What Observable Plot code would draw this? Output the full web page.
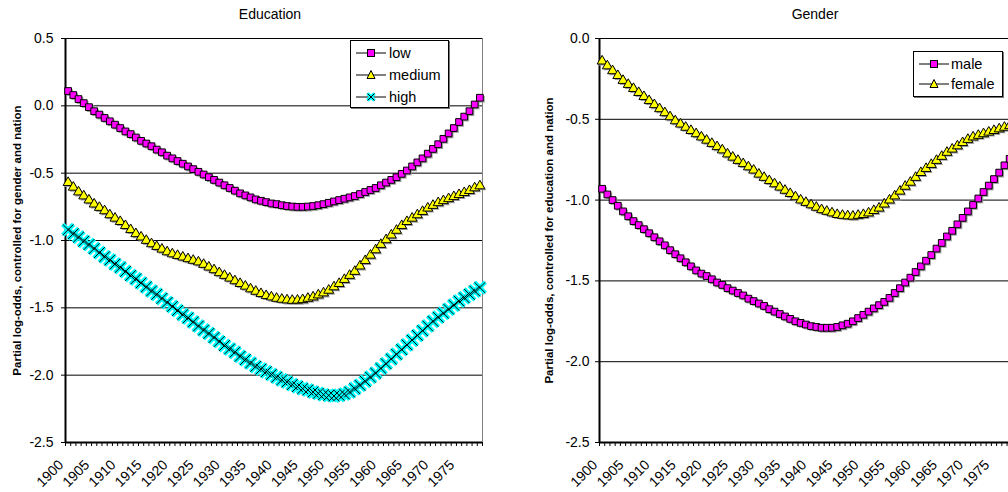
<!DOCTYPE html>
<html><head><meta charset="utf-8">
<script src="https://cdn.jsdelivr.net/npm/d3@7"></script>
<script src="https://cdn.jsdelivr.net/npm/@observablehq/plot@0.6"></script>
<style>
html,body{margin:0;padding:0;background:#fff;}
#wrap{position:relative;width:1008px;height:492px;overflow:hidden;font-family:"Liberation Sans",Arial,sans-serif;color:#000;}
.panel{position:absolute;top:0;}
.title{position:absolute;font-size:14px;line-height:16px;transform:translateX(-50%);white-space:nowrap;}
.legend{position:absolute;background:#fff;border:1px solid #000;box-shadow:1px 1px 0 #777;font-size:14.5px;}
.legend .row{position:absolute;left:0;height:16px;display:block;white-space:nowrap;}
.legend .row svg{position:absolute;left:4px;top:0;}
.legend .row span{position:absolute;top:0;line-height:16px;}
svg text{font-family:"Liberation Sans",Arial,sans-serif;}
g[aria-label="y-axis label"] text{font-weight:bold;font-size:11.5px;}
</style>
</head><body>
<div id="wrap">
  <div class="title" style="left:270px;top:6px">Education</div>
  <div class="title" style="left:815px;top:6px">Gender</div>
</div>
<script>
// ---- data ----
const years = d3.range(1900, 1980);
const yearLabels = [1900,1905,1910,1915,1920,1925,1930,1935,1940,1945,1950,1955,1960,1965,1970,1975];
const eduSeries = ["low","medium","high"];
const genderSeries = ["male","female"];
const low = [0.11,0.08,0.05,0.02,-0.01,-0.04,-0.065,-0.09,-0.115,-0.14,
-0.165,-0.19,-0.21,-0.235,-0.26,-0.28,-0.30,-0.325,-0.345,-0.37,
-0.39,-0.41,-0.43,-0.45,-0.47,-0.49,-0.51,-0.53,-0.55,-0.57,
-0.59,-0.61,-0.63,-0.65,-0.665,-0.68,-0.695,-0.705,-0.715,-0.725,
-0.73,-0.738,-0.744,-0.748,-0.75,-0.75,-0.748,-0.744,-0.738,-0.73,
-0.72,-0.71,-0.70,-0.69,-0.68,-0.67,-0.655,-0.64,-0.625,-0.61,
-0.59,-0.57,-0.55,-0.53,-0.505,-0.48,-0.45,-0.42,-0.39,-0.355,
-0.32,-0.285,-0.245,-0.205,-0.165,-0.12,-0.08,-0.04,0.01,0.06];
const medium = [-0.57,-0.605,-0.64,-0.67,-0.70,-0.73,-0.755,-0.78,-0.81,-0.835,
-0.86,-0.89,-0.92,-0.95,-0.975,-1.00,-1.025,-1.045,-1.065,-1.085,
-1.10,-1.112,-1.124,-1.136,-1.148,-1.16,-1.178,-1.198,-1.218,-1.24,
-1.26,-1.28,-1.30,-1.32,-1.34,-1.36,-1.378,-1.395,-1.41,-1.42,
-1.43,-1.437,-1.442,-1.445,-1.444,-1.44,-1.43,-1.42,-1.405,-1.39,
-1.37,-1.345,-1.32,-1.29,-1.26,-1.23,-1.19,-1.15,-1.11,-1.07,
-1.03,-0.995,-0.96,-0.925,-0.89,-0.86,-0.835,-0.81,-0.785,-0.76,
-0.74,-0.72,-0.705,-0.69,-0.675,-0.66,-0.645,-0.63,-0.61,-0.595];
const high = [-0.92,-0.95,-0.975,-1.005,-1.03,-1.06,-1.09,-1.12,-1.145,-1.175,
-1.20,-1.23,-1.26,-1.285,-1.315,-1.345,-1.375,-1.40,-1.43,-1.46,
-1.49,-1.52,-1.55,-1.575,-1.605,-1.635,-1.665,-1.69,-1.72,-1.75,
-1.78,-1.805,-1.83,-1.86,-1.885,-1.91,-1.935,-1.955,-1.975,-1.995,
-2.015,-2.035,-2.05,-2.07,-2.085,-2.10,-2.11,-2.125,-2.135,-2.145,
-2.15,-2.155,-2.15,-2.14,-2.125,-2.10,-2.075,-2.045,-2.015,-1.985,
-1.95,-1.915,-1.88,-1.845,-1.81,-1.775,-1.74,-1.705,-1.67,-1.635,
-1.60,-1.57,-1.54,-1.51,-1.48,-1.45,-1.425,-1.40,-1.375,-1.35];
const male = [-0.93,-0.965,-1.0,-1.035,-1.07,-1.10,-1.13,-1.155,-1.18,-1.205,
-1.23,-1.255,-1.28,-1.31,-1.335,-1.36,-1.385,-1.41,-1.435,-1.455,
-1.47,-1.49,-1.51,-1.525,-1.545,-1.56,-1.575,-1.59,-1.61,-1.625,
-1.64,-1.655,-1.675,-1.69,-1.705,-1.72,-1.735,-1.75,-1.76,-1.77,
-1.78,-1.785,-1.79,-1.79,-1.79,-1.785,-1.775,-1.765,-1.75,-1.73,
-1.71,-1.69,-1.67,-1.65,-1.63,-1.605,-1.575,-1.545,-1.51,-1.48,
-1.445,-1.41,-1.375,-1.34,-1.30,-1.265,-1.225,-1.19,-1.15,-1.11,
-1.07,-1.03,-0.99,-0.95,-0.91,-0.87,-0.83,-0.785,-0.745,-0.705];
const female = [-0.14,-0.17,-0.20,-0.23,-0.26,-0.285,-0.31,-0.335,-0.36,-0.385,
-0.41,-0.435,-0.46,-0.485,-0.51,-0.53,-0.55,-0.57,-0.59,-0.61,
-0.63,-0.65,-0.67,-0.69,-0.715,-0.735,-0.755,-0.775,-0.795,-0.815,
-0.84,-0.86,-0.88,-0.90,-0.92,-0.94,-0.96,-0.98,-1.00,-1.015,
-1.03,-1.045,-1.06,-1.07,-1.08,-1.09,-1.095,-1.098,-1.10,-1.095,
-1.09,-1.08,-1.065,-1.05,-1.025,-1.00,-0.975,-0.945,-0.915,-0.89,
-0.86,-0.83,-0.805,-0.78,-0.755,-0.73,-0.705,-0.685,-0.665,-0.645,
-0.625,-0.61,-0.60,-0.59,-0.58,-0.57,-0.56,-0.55,-0.54,-0.53];
const eduTicks = [-2.5,-2.0,-1.5,-1.0,-0.5,0.0,0.5];
const genderTicks = [-2.5,-2.0,-1.5,-1.0,-0.5,0.0];

// ---- styles ----
const MAG = "#FF00FF", YEL = "#FFFF00", CYA = "#00FFFF";
const toRows = (vals) => years.map((yr, i) => ({year: yr, value: vals[i]}));
const boundaries = d3.range(1899.5, 1980, 1);

function squareMarks(rows) {
  return [
    Plot.dot(rows, {x: "year", y: "value", symbol: "square", r: 3.8, fill: "#a0a0a0", dx: 1.5, dy: 1.5}),
    Plot.dot(rows, {x: "year", y: "value", symbol: "square", r: 3.8, fill: MAG, stroke: "#000", strokeWidth: 1})
  ];
}
function triMarks(rows) {
  return [
    Plot.dot(rows, {x: "year", y: "value", symbol: "triangle", r: 3.7, fill: "#a0a0a0", dx: 1.5, dy: 1.5}),
    Plot.dot(rows, {x: "year", y: "value", symbol: "triangle", r: 3.7, fill: YEL, stroke: "#000", strokeWidth: 1})
  ];
}
function timesMarks(rows) {
  return [
    Plot.dot(rows, {x: "year", y: "value", symbol: "times", r: 5, stroke: CYA, strokeWidth: 4.5}),
    Plot.dot(rows, {x: "year", y: "value", symbol: "times", r: 5, stroke: "#000", strokeWidth: 1})
  ];
}

function panel({ticks, domain, label, ml, width, mr, lineRows, markGroups, labelOffset, tickPadding}) {
  const grid = ticks.filter(t => t > domain[0]);
  return Plot.plot({
    width, height: 492,
    marginLeft: ml, marginRight: mr, marginTop: 38, marginBottom: 50,
    style: {fontSize: "14px", fontFamily: "Liberation Sans, Arial, sans-serif", background: "transparent", overflow: "visible", color: "#000"},
    x: {domain: [1899.5, 1979.5]},
    y: {domain},
    marks: [
      Plot.frame({stroke: "#808080"}),
      Plot.ruleY(grid, {stroke: "#000", strokeWidth: 1}),
      Plot.axisY({ticks, tickSize: 4, tickPadding, tickFormat: d => d.toFixed(1), fontSize: 14,
        label, labelAnchor: "center", labelOffset, labelArrow: "none"}),
      Plot.axisX({ticks: boundaries, tickSize: 4, tickFormat: () => "", label: null}),
      Plot.axisX({ticks: yearLabels, tickSize: 0, tickRotate: -45, tickPadding: 20, dx: -7,
        tickFormat: d => String(d), label: null, fontSize: 14}),
      Plot.ruleX([1899.5], {stroke: "#000", strokeWidth: 2}),
      Plot.ruleY([domain[0]], {stroke: "#000", strokeWidth: 2}),
      ...lineRows.map(rows => Plot.line(rows, {x: "year", y: "value", stroke: "#000", strokeWidth: 1})),
      ...markGroups.flat()
    ]
  });
}

const wrap = document.getElementById("wrap");

const lowR = toRows(low), medR = toRows(medium), highR = toRows(high);
const left = panel({ticks: eduTicks, domain: [-2.5, 0.5],
  label: "Partial log-odds, controlled for gender and nation",
  ml: 65, width: 500, mr: 18, labelOffset: 53, tickPadding: 8,
  lineRows: [lowR, medR, highR],
  markGroups: [squareMarks(lowR), triMarks(medR), timesMarks(highR)]});
left.classList.add("panel"); left.style.left = "0px";
wrap.appendChild(left);

const maleR = toRows(male), femR = toRows(female);
const right = panel({ticks: genderTicks, domain: [-2.5, 0.0],
  label: "Partial log-odds, controlled for education and nation",
  ml: 99, width: 520, mr: 3, labelOffset: 55, tickPadding: 6,
  lineRows: [maleR, femR],
  markGroups: [squareMarks(maleR), triMarks(femR)]});
right.classList.add("panel"); right.style.left = "500px";
wrap.appendChild(right);

// ---- legends ----
function swatch(kind) {
  const s = d3.create("svg").attr("width", 32).attr("height", 16);
  s.append("line").attr("x1", 1).attr("x2", 31).attr("y1", 8).attr("y2", 8).attr("stroke", "#000");
  if (kind === "square") s.append("rect").attr("x", 12.5).attr("y", 4.5).attr("width", 7).attr("height", 7).attr("fill", MAG).attr("stroke", "#000");
  if (kind === "triangle") s.append("path").attr("d", "M16,3.5L20,11.5L12,11.5Z").attr("fill", YEL).attr("stroke", "#000");
  if (kind === "times") {
    s.append("path").attr("d", "M12.5,4.5L19.5,11.5M19.5,4.5L12.5,11.5").attr("stroke", CYA).attr("stroke-width", 3.5);
    s.append("path").attr("d", "M12.5,4.5L19.5,11.5M19.5,4.5L12.5,11.5").attr("stroke", "#000").attr("stroke-width", 1);
  }
  return s.node();
}
function legend(entries, box, rowTop, rowStep, textLeft) {
  const d = document.createElement("div");
  d.className = "legend";
  Object.assign(d.style, {left: box[0] + "px", top: box[1] + "px", width: box[2] + "px", height: box[3] + "px"});
  entries.forEach(([name, kind], i) => {
    const r = document.createElement("div");
    r.className = "row";
    r.style.top = (rowTop + i * rowStep) + "px";
    r.style.width = box[2] + "px";
    r.appendChild(swatch(kind));
    const t = document.createElement("span");
    t.textContent = name; t.style.left = textLeft + "px";
    r.appendChild(t);
    d.appendChild(r);
  });
  wrap.appendChild(d);
}
legend([[eduSeries[0], "square"], [eduSeries[1], "triangle"], [eduSeries[2], "times"]], [350, 40, 97, 66], 4, 21.8, 38);
legend([[genderSeries[0], "square"], [genderSeries[1], "triangle"]], [913, 51, 88, 44], 4, 20, 37);
</script>
</body></html>
